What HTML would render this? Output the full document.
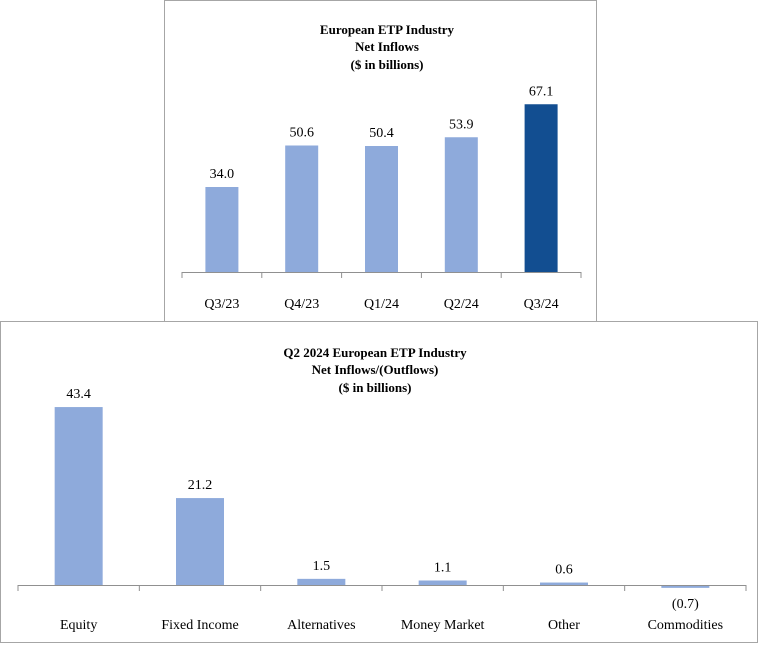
<!DOCTYPE html>
<html><head><meta charset="utf-8"><style>
body{margin:0;background:#fff;}
svg text{font-family:"Liberation Serif",serif;fill:#000;}
</style></head><body>
<svg width="759" height="644">
<rect x="164.5" y="0.5" width="432" height="321" fill="#fff" stroke="#a6a6a6"/>
<g text-anchor="middle" font-weight="bold" font-size="13">
<text x="387" y="34">European ETP Industry</text><text x="387" y="51">Net Inflows</text><text x="387" y="69">($ in billions)</text></g>
<g id="top"></g>
<rect x="0.5" y="321.5" width="757" height="321" fill="#fff" stroke="#a6a6a6"/>
<g text-anchor="middle" font-weight="bold" font-size="13">
<text x="375" y="357">Q2 2024 European ETP Industry</text><text x="375" y="374">Net Inflows/(Outflows)</text><text x="375" y="392">($ in billions)</text></g>
<g id="bot"></g>
</svg>
<script>
const topCats=["Q3/23","Q4/23","Q1/24","Q2/24","Q3/24"];
const topVals=[34.0,50.6,50.4,53.9,67.1];
const topLabels=["34.0","50.6","50.4","53.9","67.1"];
const botCats=["Equity","Fixed Income","Alternatives","Money Market","Other","Commodities"];
const botVals=[43.4,21.2,1.5,1.1,0.6,-0.7];
const botLabels=["43.4","21.2","1.5","1.1","0.6","(0.7)"];
const NS="http://www.w3.org/2000/svg";
function mk(p,t,a){const e=document.createElementNS(NS,t);for(const k in a)e.setAttribute(k,a[k]);p.appendChild(e);return e;}
function draw(g,cats,vals,labels,o){
  const n=cats.length,cw=(o.x1-o.x0)/n;
  const y=v=>o.axis-v*o.k;
  vals.forEach((v,i)=>{
    const cx=o.x0+cw*(i+0.5);
    const r=mk(g,"rect",{x:cx-o.bw/2,y:Math.min(y(v),o.axis),width:o.bw,height:Math.abs(v*o.k),fill:(o.hi===i)?"#124e91":"#8eaadb"});
    
    
    const ly=v>=0?y(v)-9:o.axis+23;
    const t=mk(g,"text",{x:cx,y:ly,"text-anchor":"middle","font-size":"14"});t.textContent=labels[i];
    
    
    const c=mk(g,"text",{x:cx,y:o.ly,"text-anchor":"middle","font-size":"14"});c.textContent=cats[i];
    
    
  });
  const ax=mk(g,"line",{x1:o.x0,x2:o.x1,y1:o.axis+0.5,y2:o.axis+0.5,stroke:"#909090"});
  
  
  for(let i=0;i<=n;i++){const x=o.x0+cw*i;const tk=mk(g,"line",{x1:x,x2:x,y1:o.axis,y2:o.axis+6,stroke:"#909090"});
    
    }
}
draw(document.getElementById("top"),topCats,topVals,topLabels,{x0:182,x1:581,axis:272,k:2.5,bw:33,ly:308,hi:4});
draw(document.getElementById("bot"),botCats,botVals,botLabels,{x0:18,x1:746,axis:585,k:4.1,bw:48,ly:629,hi:-1});
</script>
</body></html>
